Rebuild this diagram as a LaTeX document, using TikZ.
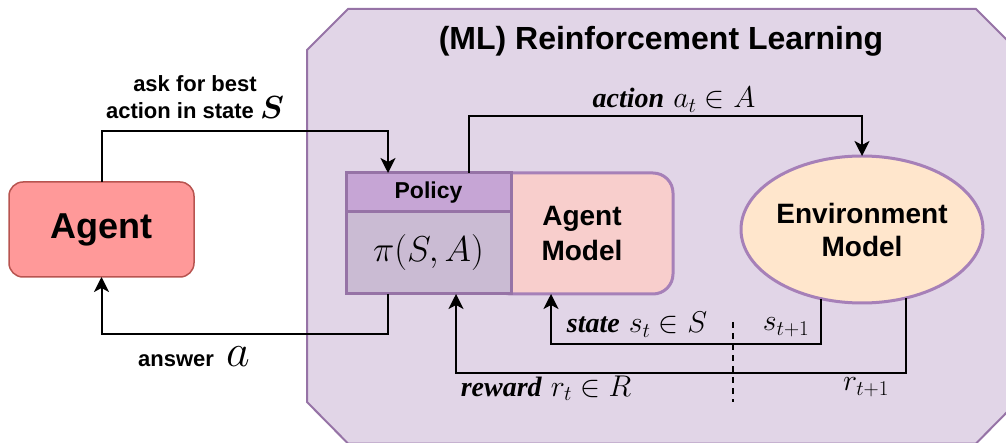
\documentclass[tikz,border=0pt]{standalone}
\usepackage{fix-cm}
\usepackage{fontspec}
\usepackage{amsmath}
\setsansfont{Liberation Sans}
\newfontfamily\wordfont{Liberation Serif}
\usetikzlibrary{positioning,calc,shapes.geometric,arrows.meta}
\definecolor{rlfill}{HTML}{E1D5E7}
\definecolor{rlline}{HTML}{9673A6}
\definecolor{agentfill}{HTML}{FF9999}
\definecolor{agentline}{HTML}{B85450}
\definecolor{polhead}{HTML}{C6A5D5}
\definecolor{polbody}{HTML}{CABBD3}
\definecolor{modelfill}{HTML}{F8CECC}
\definecolor{modelline}{HTML}{A680B8}
\definecolor{envfill}{HTML}{FFE6CC}
\newcommand{\rlfont}[2]{\sffamily\bfseries\fontsize{#1}{#2}\selectfont}
\newcommand{\rlword}[1]{{\wordfont\bfseries\itshape\fontsize{28}{30}\selectfont #1}}

\begin{document}
\begin{tikzpicture}[x=1pt,y=-1pt,
  box/.style={draw,inner sep=0pt,outer sep=0pt,font=\rlfont{28}{35}},
  conn/.style={line width=2pt},
  arr/.style={conn,-{Stealth[length=15pt,width=15pt,inset=4pt]}},
  lbl/.style={inner sep=0pt,font=\fontsize{30}{32}\selectfont}]
  \useasboundingbox (0,0) rectangle (1006,443);
  \draw[fill=rlfill,draw=rlline,line width=2pt] (348,9) -- (976,9) -- (1017,50)
        -- (1017,402) -- (976,443.5) -- (348,443.5) -- (307,402) -- (307,50) -- cycle;
  \node[font=\rlfont{32}{36}] (title) at (661,41) {(ML) Reinforcement Learning};

  \node[box,fill=agentfill,draw=agentline,line width=1.5pt,rounded corners=14pt,
        minimum width=185pt,minimum height=95pt,font=\rlfont{36}{40}] (agent) at (101.5,229.5) {Agent};
  \node[box,fill=modelfill,draw=modelline,line width=3pt,rounded corners=20pt,
        minimum width=182pt,minimum height=121pt,align=center] (model) at (582,233.5) {Agent\\Model};
  \node[box,fill=polhead,draw=rlline,line width=3pt,minimum width=165pt,minimum height=39pt,
        anchor=north west,font=\rlfont{23}{26}] (policy) at (346,173) {Policy};
  \node[box,fill=polbody,draw=rlline,line width=3pt,minimum width=165pt,minimum height=82pt,
        anchor=north west,font=\fontsize{36}{40}\selectfont] (pi) at (346,212) {$\pi(S,A)$};
  \node[box,ellipse,fill=envfill,draw=modelline,line width=3pt,minimum width=236pt,
        minimum height=147pt,align=center,font=\rlfont{28}{33}] (env) at (862,229.5) {Environment\\Model};

  \coordinate (askin) at ($(policy.north west)+(42,0)$);
  \coordinate (actout) at ($(policy.north west)+(123,0)$);
  \coordinate (ansout) at ($(pi.south west)+(42,0)$);
  \coordinate (rin) at ($(pi.south west)+(110,0)$);
  \coordinate (sin) at ($(model.south)+(-31,0)$);

  \draw[arr] (agent.north) |- ($(askin)+(0,-42)$) -- (askin);
  \draw[arr] (actout) |- ($(env.north)+(0,-40)$) -- (env.north);
  \draw[arr] (ansout) |- ($(agent.south)+(0,57)$) -- (agent.south);
  \draw[arr] (env.239) |- ($(sin)+(0,50)$) -- (sin);
  \draw[arr] (env.303) |- ($(rin)+(0,79)$) -- (rin);
  \draw[line width=1.5pt,dash pattern=on 6pt off 5pt] (733,322) -- (733,402);

  \node[inner sep=0pt,align=center,font=\rlfont{22}{27}] (asklbl) at (195,97)
        {ask for best\\action in state {\fontsize{32}{32}\selectfont$\boldsymbol{S}$}};
  \node[inner sep=0pt,font=\rlfont{22}{26}] (anslbl) at (194,357)
        {answer~~{\fontsize{46}{46}\selectfont$a$}};
  \node[lbl] (actlbl) at (674,100) {\rlword{action} $a_t\in A$};
  \node[lbl] (statelbl) at (637,325) {\rlword{state} $s_t\in S$};
  \node[lbl] (snext) at (786,327) {$s_{t+1}$};
  \node[lbl] (rewlbl) at (546,388) {\rlword{reward} $r_t\in R$};
  \node[lbl] (rnext) at (866,387) {$r_{t+1}$};
\end{tikzpicture}
\end{document}
